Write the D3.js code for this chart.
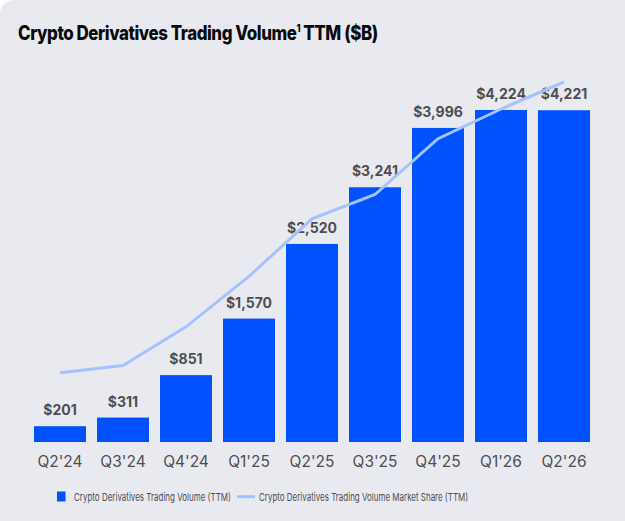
<!DOCTYPE html>
<html><head><meta charset="utf-8">
<script src="https://cdn.jsdelivr.net/npm/d3@7"></script>
<style>
html,body{margin:0;padding:0;background:#fff;}
svg{display:block;}
</style></head>
<body>
<svg id="chart" width="625" height="521"></svg>
<script>
const categories = ["Q2'24","Q3'24","Q4'24","Q1'25","Q2'25","Q3'25","Q4'25","Q1'26","Q2'26"];
const volume = [201,311,851,1570,2520,3241,3996,4224,4221];
const volumeLabels = ["$201","$311","$851","$1,570","$2,520","$3,241","$3,996","$4,224","$4,221"];
const marketShare = [7.7,8.5,12.8,18.4,24.8,27.5,33.7,37.0,40.0];
const titleMain = "Crypto Derivatives Trading Volume";
const titleSup = "1";
const titleTail = " TTM ($B)";
const legendItems = ["Crypto Derivatives Trading Volume (TTM)","Crypto Derivatives Trading Volume Market Share (TTM)"];

const W = 625, H = 521;
const BAR = "#0052FF", LINE = "#A6C1FF", BG = "#E9EAEF", TXT = "#4E4E52";
const FONT = "Inter, 'Noto Sans', sans-serif";
const svg = d3.select("#chart");

svg.append("rect").attr("x",0).attr("y",0).attr("width",W+30).attr("height",H+30)
  .attr("rx",14).attr("fill",BG);

// title
const tg = svg.append("g");
const t = tg.append("text").attr("x",0).attr("y",0)
  .attr("font-family",FONT).attr("font-weight",800)
  .attr("font-size",20).attr("letter-spacing","-0.5px").attr("fill","#0a0b0d");
t.append("tspan").text(titleMain);
t.append("tspan").attr("font-size",11).attr("dy",-8).text(titleSup);
t.append("tspan").attr("dy",8).text(titleTail);
const tw = t.node().getBBox().width;
tg.attr("transform",`translate(18,40) scale(${360/tw},1)`);

const x = d3.scaleBand().domain(categories).range([28.5, 595.5]).paddingInner(0.1746).paddingOuter(0.0873);
const y = d3.scaleLinear().domain([0,4500]).range([442, 88.3]);
const y2 = d3.scaleLinear().domain([0,40]).range([442, 82]);

svg.append("g").selectAll("rect").data(volume).join("rect")
  .attr("x",(d,i)=>x(categories[i]))
  .attr("width",x.bandwidth())
  .attr("y",d=>y(d))
  .attr("height",d=>y(0)-y(d))
  .attr("fill",BAR);

svg.append("g").selectAll("text").data(volume).join("text")
  .attr("x",(d,i)=>x(categories[i])+x.bandwidth()/2)
  .attr("y",d=>y(d)-11)
  .attr("text-anchor","middle")
  .attr("font-family",FONT).attr("font-weight",700)
  .attr("font-size",14).attr("fill",TXT)
  .text((d,i)=>volumeLabels[i]);

const line = d3.line().x((d,i)=>x(categories[i])+x.bandwidth()/2).y(d=>y2(d));
svg.append("path").datum(marketShare).attr("d",line)
  .attr("fill","none").attr("stroke",LINE).attr("stroke-width",3);

const xAxis = svg.append("g").attr("transform","translate(0,442)")
  .call(d3.axisBottom(x).tickSize(0).tickPadding(14));
xAxis.select(".domain").remove();
xAxis.selectAll("text").attr("font-family",FONT)
  .attr("font-size",15.5).attr("fill",TXT).attr("dy","0.71em");

// legend
const lg = svg.append("g").attr("font-family",FONT)
  .attr("font-size",11).attr("fill",TXT);
lg.append("rect").attr("x",57).attr("y",491.5).attr("width",8.5).attr("height",10).attr("fill",BAR);
function fitText(str, x0, w){
  const g = lg.append("g");
  const tx = g.append("text").attr("x",0).attr("y",0).text(str);
  const nw = tx.node().getComputedTextLength();
  g.attr("transform",`translate(${x0},500.5) scale(${w/nw},1)`);
}
fitText(legendItems[0], 74, 157);
lg.append("line").attr("x1",237).attr("x2",255).attr("y1",496.7).attr("y2",496.7)
  .attr("stroke",LINE).attr("stroke-width",3);
fitText(legendItems[1], 259, 209);
</script>
</body></html>
